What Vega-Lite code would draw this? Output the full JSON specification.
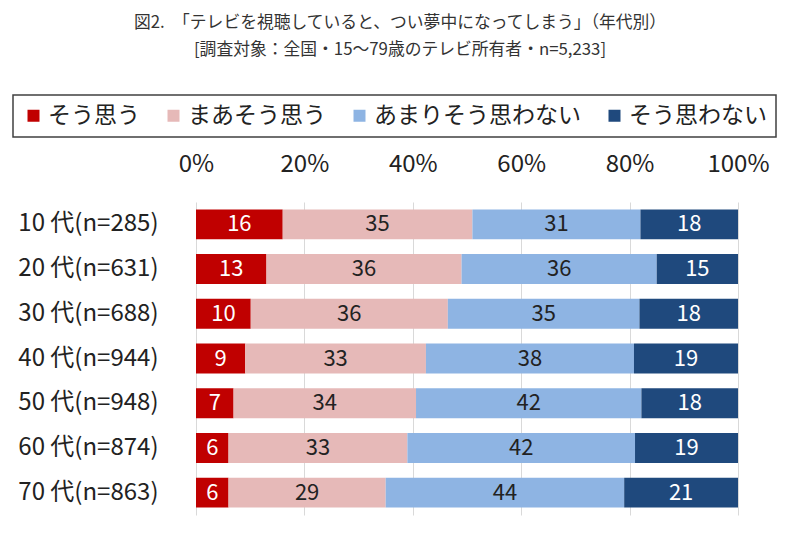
{
  "$schema": "https://vega.github.io/schema/vega-lite/v6.json",
  "width": 542,
  "height": 313,
  "autosize": {"type": "none"},
  "padding": {"left": 196, "top": 202, "right": 61, "bottom": 19},
  "background": "white",
  "title": {
    "text": ["図2.　「テレビを視聴していると、つい夢中になってしまう」（年代別）", "[調査対象：全国・15～79歳のテレビ所有者・n=5,233]"],
    "font": "Noto Sans CJK JP",
    "fontSize": 16.8,
    "fontWeight": "normal",
    "color": "#333333",
    "lineHeight": 27,
    "anchor": "middle",
    "frame": "group",
    "dx": -67,
    "offset": 35
  },
  "config": {"view": {"stroke": null}, "font": "Noto Sans CJK JP"},
  "data": {
    "values": [
      {"age": "10 代(n=285)", "cat": "そう思う", "k": 1, "value": 16},
      {"age": "10 代(n=285)", "cat": "まあそう思う", "k": 2, "value": 35},
      {"age": "10 代(n=285)", "cat": "あまりそう思わない", "k": 3, "value": 31},
      {"age": "10 代(n=285)", "cat": "そう思わない", "k": 4, "value": 18},
      {"age": "20 代(n=631)", "cat": "そう思う", "k": 1, "value": 13},
      {"age": "20 代(n=631)", "cat": "まあそう思う", "k": 2, "value": 36},
      {"age": "20 代(n=631)", "cat": "あまりそう思わない", "k": 3, "value": 36},
      {"age": "20 代(n=631)", "cat": "そう思わない", "k": 4, "value": 15},
      {"age": "30 代(n=688)", "cat": "そう思う", "k": 1, "value": 10},
      {"age": "30 代(n=688)", "cat": "まあそう思う", "k": 2, "value": 36},
      {"age": "30 代(n=688)", "cat": "あまりそう思わない", "k": 3, "value": 35},
      {"age": "30 代(n=688)", "cat": "そう思わない", "k": 4, "value": 18},
      {"age": "40 代(n=944)", "cat": "そう思う", "k": 1, "value": 9},
      {"age": "40 代(n=944)", "cat": "まあそう思う", "k": 2, "value": 33},
      {"age": "40 代(n=944)", "cat": "あまりそう思わない", "k": 3, "value": 38},
      {"age": "40 代(n=944)", "cat": "そう思わない", "k": 4, "value": 19},
      {"age": "50 代(n=948)", "cat": "そう思う", "k": 1, "value": 7},
      {"age": "50 代(n=948)", "cat": "まあそう思う", "k": 2, "value": 34},
      {"age": "50 代(n=948)", "cat": "あまりそう思わない", "k": 3, "value": 42},
      {"age": "50 代(n=948)", "cat": "そう思わない", "k": 4, "value": 18},
      {"age": "60 代(n=874)", "cat": "そう思う", "k": 1, "value": 6},
      {"age": "60 代(n=874)", "cat": "まあそう思う", "k": 2, "value": 33},
      {"age": "60 代(n=874)", "cat": "あまりそう思わない", "k": 3, "value": 42},
      {"age": "60 代(n=874)", "cat": "そう思わない", "k": 4, "value": 19},
      {"age": "70 代(n=863)", "cat": "そう思う", "k": 1, "value": 6},
      {"age": "70 代(n=863)", "cat": "まあそう思う", "k": 2, "value": 29},
      {"age": "70 代(n=863)", "cat": "あまりそう思わない", "k": 3, "value": 44},
      {"age": "70 代(n=863)", "cat": "そう思わない", "k": 4, "value": 21}
    ]
  },
  "encoding": {
    "y": {
      "field": "age",
      "type": "nominal",
      "sort": null,
      "scale": {"paddingInner": 0.33, "paddingOuter": 0.165},
      "axis": {
        "title": null,
        "domain": false,
        "ticks": false,
        "labelFontSize": 24,
        "labelPadding": 38,
        "labelLimit": 300,
        "labelColor": "#222222",
        "labelFont": "Noto Sans CJK JP"
      }
    }
  },
  "layer": [
    {
      "mark": {"type": "bar"},
      "encoding": {
        "x": {
          "field": "value",
          "type": "quantitative",
          "stack": "normalize",
          "scale": {"domain": [0, 1]},
          "axis": {
            "orient": "top",
            "format": ".0%",
            "values": [0, 0.2, 0.4, 0.6, 0.8, 1],
            "title": null,
            "domain": false,
            "ticks": false,
            "grid": true,
            "gridColor": "#d9d9d9",
            "labelFlush": false,
            "labelFontSize": 24,
            "labelPadding": 26,
            "labelColor": "#222222",
            "labelFont": "Noto Sans CJK JP"
          }
        },
        "color": {
          "field": "cat",
          "type": "nominal",
          "scale": {
            "domain": ["そう思う", "まあそう思う", "あまりそう思わない", "そう思わない"],
            "range": ["#C00000", "#E6B9B8", "#8EB4E3", "#1F497D"]
          },
          "legend": {
            "orient": "none",
            "legendX": -183,
            "legendY": -107,
            "direction": "horizontal",
            "title": null,
            "strokeColor": "#404040",
            "fillColor": "white",
            "padding": 9,
            "symbolType": "square",
            "symbolSize": 144,
            "symbolStrokeWidth": 0,
            "symbolOpacity": 1,
            "labelFontSize": 23,
            "labelFont": "Noto Sans CJK JP",
            "labelColor": "#222222",
            "labelOffset": 3,
            "labelLimit": 400,
            "columnPadding": 22,
            "encode": {"legend": {"update": {"strokeWidth": {"value": 1.5}}}}
          }
        },
        "order": {"field": "k", "type": "quantitative"}
      }
    },
    {
      "mark": {"type": "text", "fontSize": 22, "font": "Noto Sans CJK JP"},
      "encoding": {
        "x": {"field": "value", "type": "quantitative", "stack": "normalize", "bandPosition": 0.5},
        "detail": {"field": "cat"},
        "order": {"field": "k", "type": "quantitative"},
        "text": {"field": "value", "type": "quantitative"},
        "color": {
          "condition": {"test": "datum.cat === 'そう思う' || datum.cat === 'そう思わない'", "value": "white"},
          "value": "#222222"
        }
      }
    }
  ]
}
